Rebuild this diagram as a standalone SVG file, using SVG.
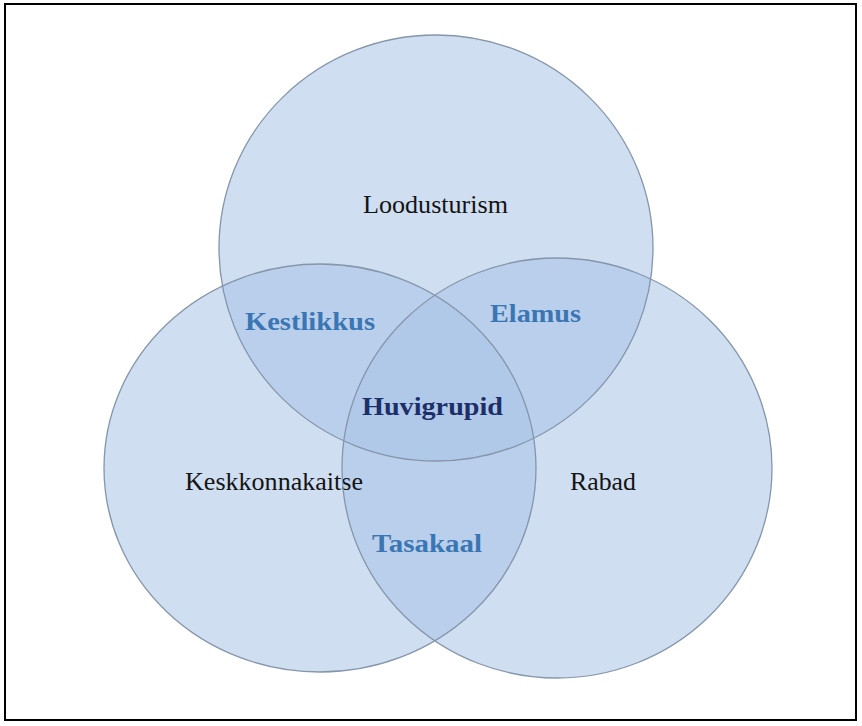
<svg xmlns="http://www.w3.org/2000/svg" xmlns:xlink="http://www.w3.org/1999/xlink" width="862" height="726" viewBox="0 0 862 726">
  <defs>
    <style>
      .set { fill: rgb(170,197,230); fill-opacity: 0.56; stroke: none; }
      .outline { fill: none; stroke: #8596ab; stroke-width: 1.3; }
      .lbl { font-family: "Liberation Serif", "Times New Roman", serif; font-size: 25px; fill: #141414; }
      .ov { font-family: "Liberation Serif", "Times New Roman", serif; font-size: 25px; font-weight: bold; fill: #3a76b3; }
      .core { fill: #1c2f69; }
    </style>
    <ellipse id="shape-top" cx="436" cy="248" rx="217" ry="213"/>
    <ellipse id="shape-left" cx="320" cy="468" rx="216" ry="204"/>
    <ellipse id="shape-right" cx="557" cy="468" rx="215" ry="210"/>
  </defs>
  <rect x="0" y="0" width="862" height="726" fill="#ffffff"/>
  <rect x="5" y="4" width="851" height="716" fill="none" stroke="#000000" stroke-width="2"/>

  <g id="set-fills">
    <use xlink:href="#shape-top" href="#shape-top" class="set"/>
    <use xlink:href="#shape-left" href="#shape-left" class="set"/>
    <use xlink:href="#shape-right" href="#shape-right" class="set"/>
  </g>

  <g id="node-loodusturism">
    <use xlink:href="#shape-top" href="#shape-top" class="outline"/>
    <text class="lbl" x="435.5" y="213" text-anchor="middle" textLength="145" lengthAdjust="spacingAndGlyphs">Loodusturism</text>
  </g>
  <g id="node-keskkonnakaitse">
    <use xlink:href="#shape-left" href="#shape-left" class="outline"/>
    <text class="lbl" x="274" y="490" text-anchor="middle" textLength="178" lengthAdjust="spacingAndGlyphs">Keskkonnakaitse</text>
  </g>
  <g id="node-rabad">
    <use xlink:href="#shape-right" href="#shape-right" class="outline"/>
    <text class="lbl" x="603" y="490" text-anchor="middle" textLength="66" lengthAdjust="spacingAndGlyphs">Rabad</text>
  </g>

  <g id="overlap-kestlikkus">
    <text class="ov" x="310" y="330" text-anchor="middle" textLength="130" lengthAdjust="spacingAndGlyphs">Kestlikkus</text>
  </g>
  <g id="overlap-elamus">
    <text class="ov" x="535.5" y="322" text-anchor="middle" textLength="91" lengthAdjust="spacingAndGlyphs">Elamus</text>
  </g>
  <g id="overlap-huvigrupid">
    <text class="ov core" x="432.5" y="415" text-anchor="middle" textLength="141" lengthAdjust="spacingAndGlyphs">Huvigrupid</text>
  </g>
  <g id="overlap-tasakaal">
    <text class="ov" x="427" y="552" text-anchor="middle" textLength="110" lengthAdjust="spacingAndGlyphs">Tasakaal</text>
  </g>
</svg>
